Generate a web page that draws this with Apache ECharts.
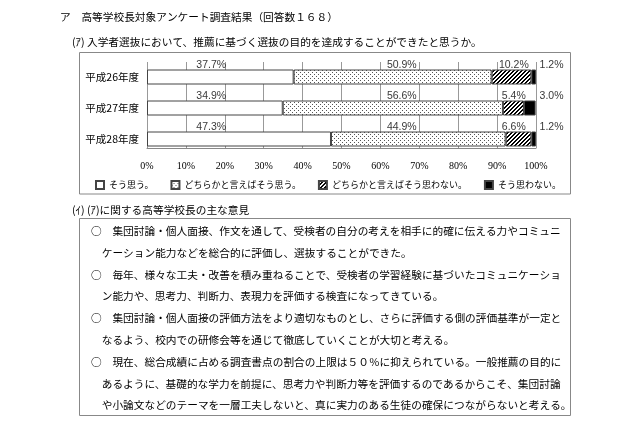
<!DOCTYPE html>
<html><head><meta charset="utf-8">
<script src="https://cdn.jsdelivr.net/npm/echarts@6/dist/echarts.min.js"></script>
<style>html,body{margin:0;padding:0;background:#fff}#c{width:640px;height:426px}</style>
</head><body><div id="c"></div>
<script>
// ---- data ----
const categories = ['平成26年度', '平成27年度', '平成28年度'];
const seriesNames = ['そう思う。', 'どちらかと言えばそう思う。', 'どちらかと言えばそう思わない。', 'そう思わない。'];
const agree = [37.7, 34.9, 47.3];
const ratherAgree = [50.9, 56.6, 44.9];
const ratherDisagree = [10.2, 5.4, 6.6];
const disagree = [1.2, 3.0, 1.2];
const xTicks = [0, 10, 20, 30, 40, 50, 60, 70, 80, 90, 100];
const titleText = 'ア　高等学校長対象アンケート調査結果（回答数１６８）';
const questionText = '(ｱ) 入学者選抜において、推薦に基づく選抜の目的を達成することができたと思うか。';
const opinionTitle = '(ｲ) (ｱ)に関する高等学校長の主な意見';
const opinionLines = [
  '○　集団討論・個人面接、作文を通して、受検者の自分の考えを相手に的確に伝える力やコミュニ',
  'ケーション能力などを総合的に評価し、選抜することができた。',
  '○　毎年、様々な工夫・改善を積み重ねることで、受検者の学習経験に基づいたコミュニケーショ',
  'ン能力や、思考力、判断力、表現力を評価する検査になってきている。',
  '○　集団討論・個人面接の評価方法をより適切なものとし、さらに評価する側の評価基準が一定と',
  'なるよう、校内での研修会等を通じて徹底していくことが大切と考える。',
  '○　現在、総合成績に占める調査書点の割合の上限は５０％に抑えられている。一般推薦の目的に',
  'あるように、基礎的な学力を前提に、思考力や判断力等を評価するのであるからこそ、集団討論',
  'や小論文などのテーマを一層工夫しないと、真に実力のある生徒の確保につながらないと考える。'
];

// ---- style ----
const JP = '"Noto Sans CJK JP"';
const LABEL_X = [16.5, 65.5, 94.3, 104]; // label anchor along value axis (style)
function tile(fn) {
  const c = document.createElement('canvas'); c.width = 4; c.height = 4;
  const g = c.getContext('2d'); g.fillStyle = '#fff'; g.fillRect(0, 0, 4, 4); fn(g); return c;
}
const dots = tile(g => { g.fillStyle = '#555'; g.fillRect(0, 0, 1, 1); g.fillRect(2, 2, 1, 1); });
const hatch = tile(g => {
  g.fillStyle = '#000';
  for (let y = 0; y < 4; y++) for (let x = 0; x < 4; x++) { const s = (x + y) % 4; if (s === 3 || s === 0) g.fillRect(x, y, 1, 1); }
});
const fills = ['#fff', { image: dots, repeat: 'repeat' }, { image: hatch, repeat: 'repeat' }, '#000'];
const values = [agree, ratherAgree, ratherDisagree, disagree];

const barSeries = values.map((v, i) => ({
  name: seriesNames[i], type: 'bar', stack: 'all', barWidth: 15,
  itemStyle: { color: fills[i], borderColor: '#444', borderWidth: 1 },
  data: v
}));
const labelData = [];
values.forEach((v, i) => v.forEach((val, j) => labelData.push([LABEL_X[i], j, val])));

const graphics = [
  { type: 'text', style: { text: titleText, x: 60, y: 17, fill: '#000', fontSize: 10.7, fontFamily: JP, verticalAlign: 'middle' } },
  { type: 'text', style: { text: questionText, x: 72, y: 42, fill: '#000', fontSize: 10.7, fontFamily: JP, verticalAlign: 'middle' } },
  { type: 'rect', shape: { x: 79.5, y: 52.5, width: 491, height: 141.5 }, style: { fill: 'none', stroke: '#888', lineWidth: 1 } },
  { type: 'text', style: { text: opinionTitle, x: 72, y: 210, fill: '#000', fontSize: 10.7, fontFamily: JP, verticalAlign: 'middle' } },
  { type: 'rect', shape: { x: 79.5, y: 218.5, width: 491, height: 197 }, style: { fill: 'none', stroke: '#888', lineWidth: 1 } }
];
opinionLines.forEach((t, i) => {
  const cont = !t.startsWith('○');
  graphics.push({ type: 'text', style: { text: t, x: cont ? 101.7 : 91, y: 231 + i * 21.8, fill: '#000', fontSize: 10.7, fontFamily: JP, verticalAlign: 'middle' } });
});

const chart = echarts.init(document.getElementById('c'), null, { renderer: 'canvas' });
chart.setOption({
  animation: false,
  grid: { left: 147, right: 104, top: 61.5, height: 93, containLabel: false },
  legend: {
    data: seriesNames.map(n => ({ name: n, icon: 'rect' })), left: 95, top: 180, itemWidth: 8, itemHeight: 8, itemGap: 17, padding: 0,
    textStyle: { fontSize: 9, fontFamily: JP, color: '#000' }
  },
  xAxis: {
    type: 'value', min: xTicks[0], max: xTicks[xTicks.length - 1], interval: 10, offset: -6.5,
    axisLine: { show: true, lineStyle: { color: '#888' } },
    axisTick: { show: true, inside: true, length: 86, lineStyle: { color: '#999' } },
    splitLine: { show: false },
    axisLabel: { formatter: '{value}%', margin: 13, fontSize: 10, fontFamily: '"Liberation Serif"', color: '#000' }
  },
  yAxis: {
    type: 'category', data: categories, inverse: true,
    axisLine: { show: false }, axisTick: { show: false },
    axisLabel: { fontSize: 10.5, fontFamily: JP, color: '#000', margin: 8 }
  },
  series: barSeries.concat([{
    type: 'scatter', symbolSize: 0, clip: false, silent: true, z: 5,
    data: labelData,
    label: { show: true, position: 'inside', offset: [0, -12], fontSize: 10.5, fontFamily: '"Liberation Sans"', color: '#000',
      formatter: p => p.value[2].toFixed(1) + '%' }
  }]),
  graphic: graphics
});
</script></body></html>
